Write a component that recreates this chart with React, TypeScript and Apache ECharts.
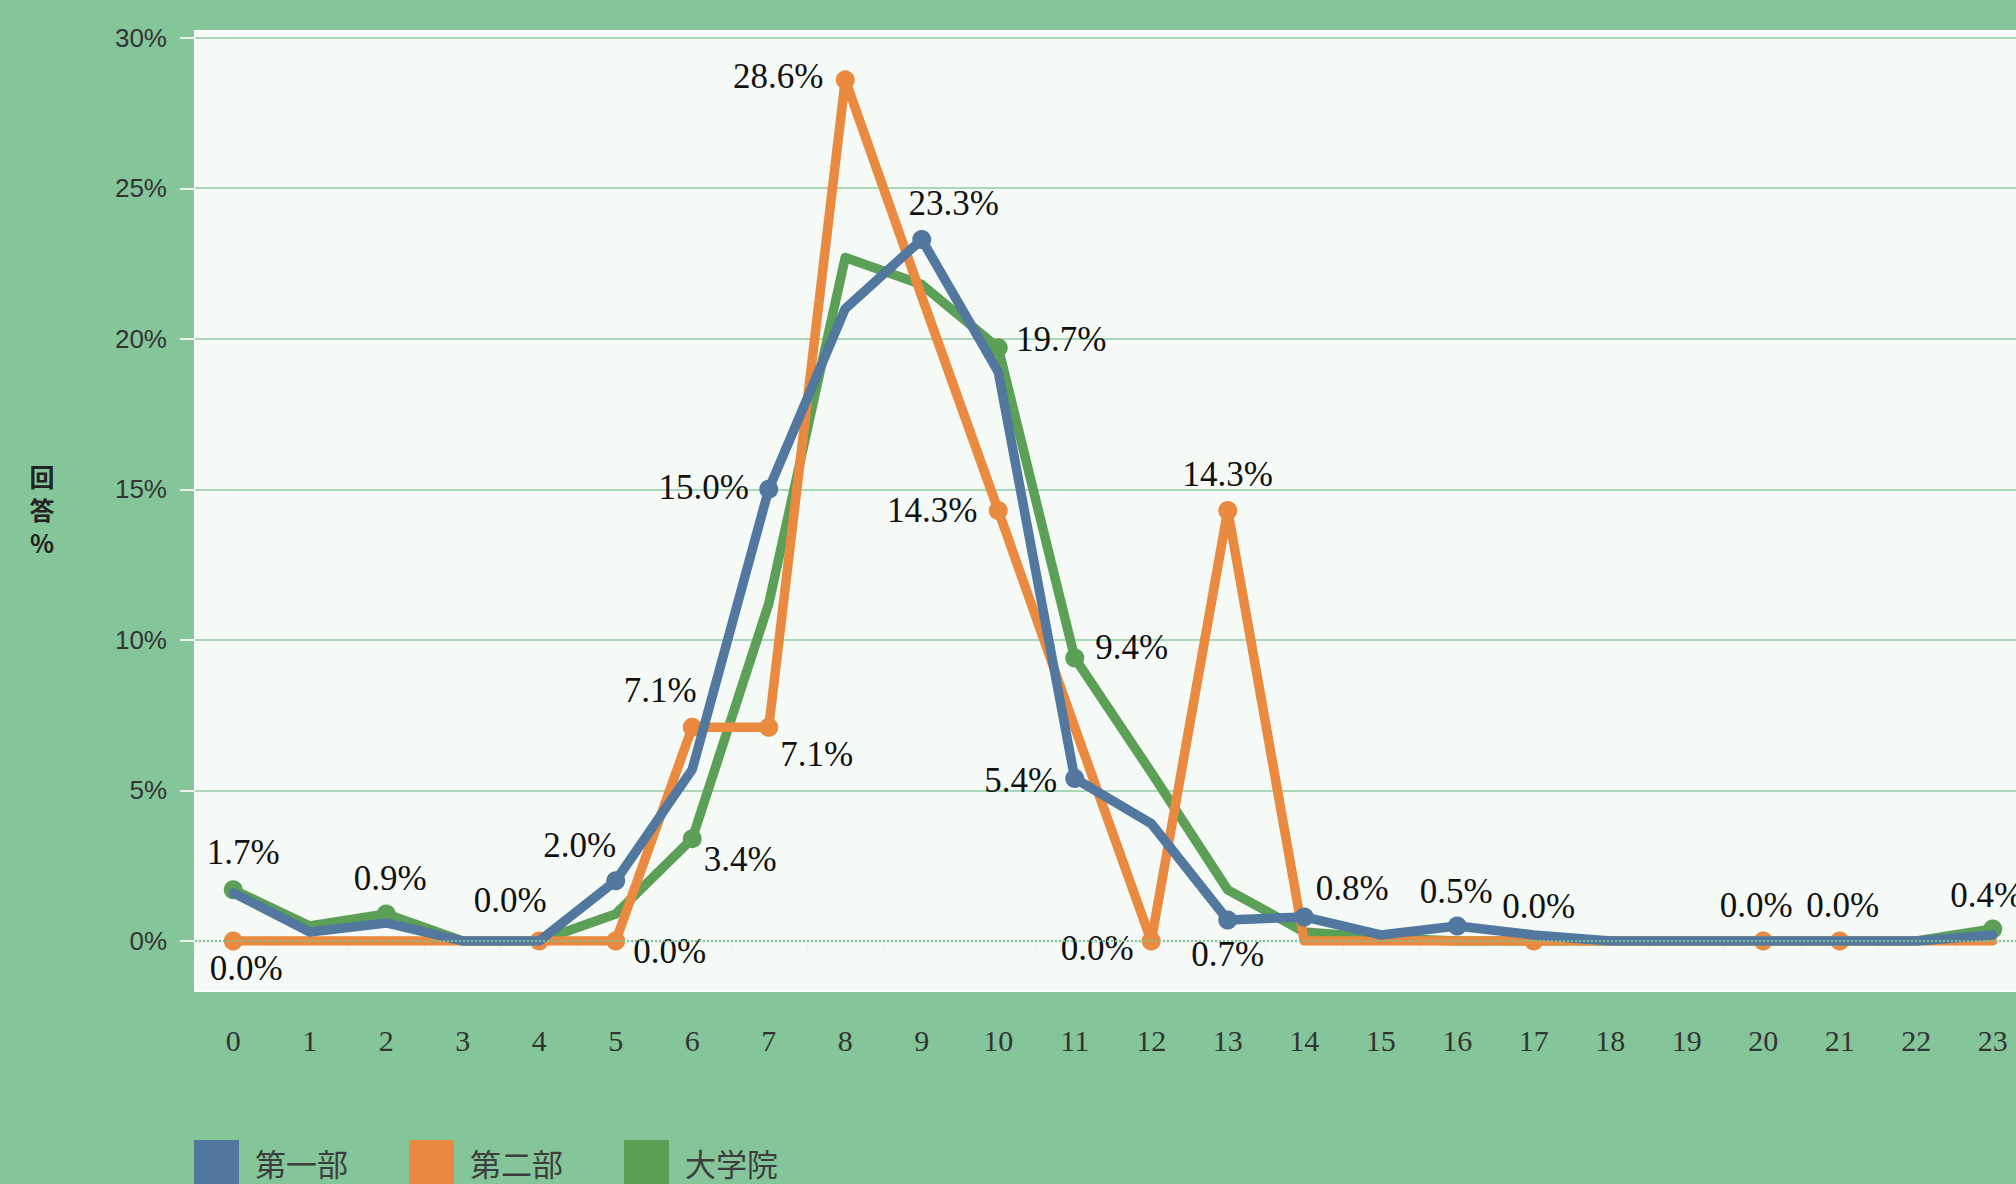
import React, { useEffect, useRef } from "react";
import * as echarts from "echarts";

// ---- data ----
const hours = [
  "0", "1", "2", "3", "4", "5", "6", "7", "8", "9", "10", "11",
  "12", "13", "14", "15", "16", "17", "18", "19", "20", "21", "22", "23",
];
const seriesNames = ["第一部", "第二部", "大学院"];
const dept1Values = [1.6, 0.3, 0.6, 0, 0, 2.0, 5.7, 15.0, 21.0, 23.3, 18.9, 5.4, 3.9, 0.7, 0.8, 0.2, 0.5, 0.2, 0, 0, 0, 0, 0, 0.2];
const dept2Values = [0, 0, 0, 0, 0, 0, 7.1, 7.1, 28.6, 21.4, 14.3, 7.1, 0, 14.3, 0, 0, 0, 0, 0, 0, 0, 0, 0, 0];
const gradValues = [1.7, 0.5, 0.9, 0, 0, 0.9, 3.4, 11.2, 22.7, 21.8, 19.7, 9.4, 5.6, 1.7, 0.3, 0.1, 0, 0, 0, 0, 0, 0, 0, 0.4];
const yMin = 0;
const yMax = 30;
const yStep = 5;
const axisTitleChars = ["回", "答", "%"];

// ---- label placement (style) ----
const dept1Labels: Record<number, [number, number]> = {
  5: [-36, -35], 7: [-65, -2], 9: [32, -36], 11: [-54, 2], 13: [0, 35], 14: [48, -28], 16: [-1, -34],
};
const dept2Labels: Record<number, [number, number]> = {
  0: [13, 27], 4: [-29, -41], 5: [54, 10], 6: [-32, -37], 7: [48, 27], 8: [-67, -3],
  10: [-66, 0], 12: [-54, 7], 13: [0, -36], 17: [5, -35], 20: [-7, -36], 21: [3, -36],
};
const gradLabels: Record<number, [number, number]> = {
  0: [10, -37], 2: [4, -35], 6: [48, 21], 10: [63, -8], 11: [57, -10], 23: [-6, -33],
};

const COLORS = ["#52789f", "#ea8a40", "#5c9f57"];

function buildData(values: number[], labels: Record<number, [number, number]>) {
  return values.map((v, i) => {
    const off = labels[i];
    if (!off) return { value: v, symbolSize: 5 };
    return {
      value: v,
      symbolSize: 19,
      label: { show: true, position: "inside", offset: off },
    };
  });
}

export default function App() {
  const ref = useRef<HTMLDivElement>(null);

  useEffect(() => {
    if (!ref.current) return;
    const chart = echarts.init(ref.current, undefined, { renderer: "svg" });

    const labelStyle = {
      show: false,
      fontFamily: "Liberation Serif",
      fontSize: 35,
      color: "#111",
      formatter: (p: any) => Number(p.value).toFixed(1) + "%",
    };

    const makeSeries = (idx: number, values: number[], labels: Record<number, [number, number]>, z: number, extra: any = {}) => ({
      name: seriesNames[idx],
      type: "line",
      data: buildData(values, labels),
      symbol: "circle",
      showSymbol: true,
      showAllSymbol: true,
      z,
      itemStyle: { color: COLORS[idx] },
      lineStyle: { color: COLORS[idx], width: 9.5, cap: "round", join: "round" },
      label: labelStyle,
      emphasis: { disabled: true },
      ...extra,
    });

    const option: any = {
      animation: false,
      backgroundColor: "#84c59a",
      color: COLORS,
      textStyle: { fontFamily: "Liberation Serif" },
      graphic: [
        {
          type: "rect",
          z: -1,
          silent: true,
          shape: { x: 195, y: 31, width: 1850, height: 960 },
          style: { fill: "#f5faf6", stroke: "#ffffff", lineWidth: 2 },
        },
        ...axisTitleChars.map((ch, i) => ({
          type: "text",
          x: 42,
          y: 476 + i * 33,
          silent: true,
          style: {
            text: ch,
            fontFamily: "Noto Sans CJK JP",
            fontWeight: "bold",
            fontSize: 25,
            lineHeight: 26,
            fill: "#222",
            align: "center",
            verticalAlign: "middle",
          },
        })),
      ],
      legend: {
        left: 189,
        top: 1135,
        itemWidth: 45,
        itemHeight: 45,
        itemGap: 61,
        icon: "rect",
        data: seriesNames,
        textStyle: {
          fontFamily: "Noto Sans CJK JP",
          fontSize: 31,
          color: "#3d3d3d",
          padding: [0, 0, 0, 11],
        },
      },
      grid: { left: 195, top: 37.7, width: 1836, height: 903.3, containLabel: false },
      xAxis: {
        type: "category",
        data: hours,
        boundaryGap: true,
        offset: 51,
        axisLine: { show: true, lineStyle: { color: "#edf1ed", width: 3 } },
        axisTick: { show: true, length: 14, lineStyle: { color: "#f2f5f2", width: 2 } },
        axisLabel: {
          interval: 0,
          margin: 33,
          fontFamily: "Liberation Serif",
          fontSize: 30,
          color: "#333",
        },
        splitLine: { show: false },
      },
      yAxis: {
        type: "value",
        min: yMin,
        max: yMax,
        interval: yStep,
        axisLine: { show: false },
        axisTick: { show: true, length: 15, lineStyle: { color: "#eef2ef", width: 2 } },
        axisLabel: {
          formatter: "{value}%",
          margin: 28,
          fontFamily: "Liberation Sans",
          fontSize: 26,
          color: "#333",
        },
        splitLine: { show: true, showMinLine: false, lineStyle: { color: "#a9d8b8", width: 2 } },
      },
      series: [
        makeSeries(0, dept1Values, dept1Labels, 4),
        makeSeries(1, dept2Values, dept2Labels, 3),
        makeSeries(2, gradValues, gradLabels, 2, {
          markLine: {
            silent: true,
            symbol: ["none", "none"],
            label: { show: false },
            lineStyle: { type: "dotted", color: "#7cc293", width: 2 },
            data: [{ yAxis: 0 }],
          },
        }),
      ],
    };

    chart.setOption(option);
    return () => chart.dispose();
  }, []);

  return (
    <div
      ref={ref}
      style={{ position: "fixed", left: 0, top: 0, width: 2045, height: 1184, background: "#84c59a" }}
    />
  );
}
